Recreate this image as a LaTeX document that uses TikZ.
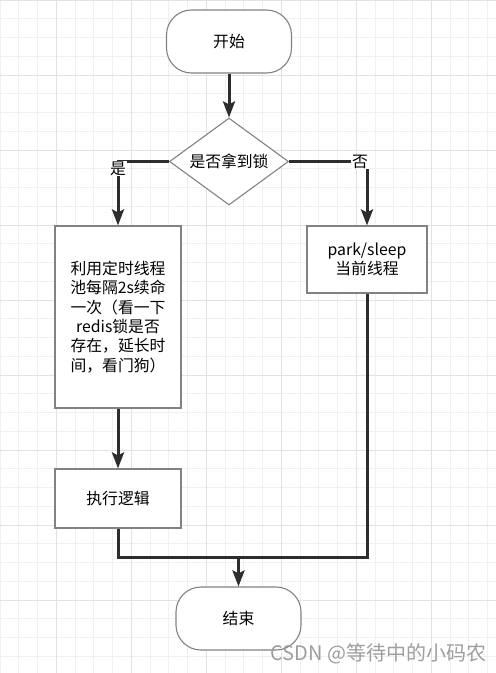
\documentclass[tikz,border=0pt]{standalone}
\usepackage{fontspec}
\setmainfont{Noto Sans CJK SC}
\usetikzlibrary{arrows.meta,shapes.geometric}
\definecolor{edgegray}{RGB}{45,45,45}
\definecolor{bordergray}{RGB}{130,130,130}
\definecolor{gridminor}{RGB}{240,240,240}
\definecolor{gridmajor}{RGB}{226,226,226}

\begin{document}
\begin{tikzpicture}[
        x=1pt, y=-1pt,
        every node/.style={font=\fontsize{15.8pt}{19.3pt}\selectfont, text=black},
        terminal/.style={
            rectangle,
            draw=bordergray,
            fill=white,
            line width=1.1pt,
            minimum width=125pt,
            minimum height=63pt,
            rounded corners=25pt
        },
        process/.style={
            rectangle,
            draw=bordergray,
            fill=white,
            line width=1.1pt,
            align=center,
            inner sep=0pt
        },
        decision/.style={
            diamond,
            draw=bordergray,
            fill=white,
            line width=1.1pt,
            aspect=1.37,
            minimum width=119pt,
            minimum height=87pt,
            inner sep=0pt
        },
        flow/.style={draw=edgegray, line width=3pt},
        arrow/.style={flow, -{Stealth[length=16pt, width=12pt, inset=3pt]}},
        edgelabel/.style={fill=white, inner sep=1pt},
        minorline/.style={draw=gridminor, line width=1pt},
        majorline/.style={draw=gridmajor, line width=1pt}
    ]
        \useasboundingbox (0,0) rectangle (496,673);
        \fill[white] (0,0) rectangle (496,673);

        % Grid
        \foreach \k in {0,...,26} \draw[minorline] (\k*18.75,0) -- (\k*18.75,673);
        \foreach \k in {0,...,35} \draw[minorline] (0,\k*18.75) -- (496,\k*18.75);
        \foreach \k in {3,7,...,23} \draw[majorline] (\k*18.75,0) -- (\k*18.75,673);
        \foreach \k in {0,4,...,32} \draw[majorline] (0,\k*18.75) -- (496,\k*18.75);

        % Flow Nodes
        \node[terminal] (start) at (229,41.5) {开始};
        \node[decision] (lock) at (229,161.5) {是否拿到锁};

        \node[process, minimum width=126pt, minimum height=182pt] (renew) at (118,317) {利用定时线程\\池每隔2s续命\\一次（看一下\\redis锁是否\\存在，延长时\\间，看门狗）};
        \node[process, minimum width=120pt, minimum height=67pt] (park) at (367,259.5) {park/sleep\\当前线程};
        \node[process, minimum width=126pt, minimum height=59pt] (exec) at (118,498.5) {执行逻辑};

        \node[terminal] (finish) at (238.5,618.5) {结束};
        \coordinate (merge) at (238.5,557);

        \node[text=black!38, font=\fontsize{20pt}{23pt}\selectfont, anchor=west] (mark) at (267,654) {CSDN @等待中的小码农};

        % Flow lines
        \draw[arrow] (start) -- (lock);
        \draw[arrow] (lock.west) -| node[edgelabel, pos=0.5, yshift=-7pt] {是} (renew.north);
        \draw[arrow] (lock.east) -| node[edgelabel, pos=0.5, xshift=-7pt] {否} (park.north);
        \draw[arrow] (renew) -- (exec);

        % Merge lines
        \draw[flow] (exec.south) |- (merge);
        \draw[flow] (park.south) |- (merge);
        \draw[arrow] (merge) -- (finish.north);

    \end{tikzpicture}
\end{document}
